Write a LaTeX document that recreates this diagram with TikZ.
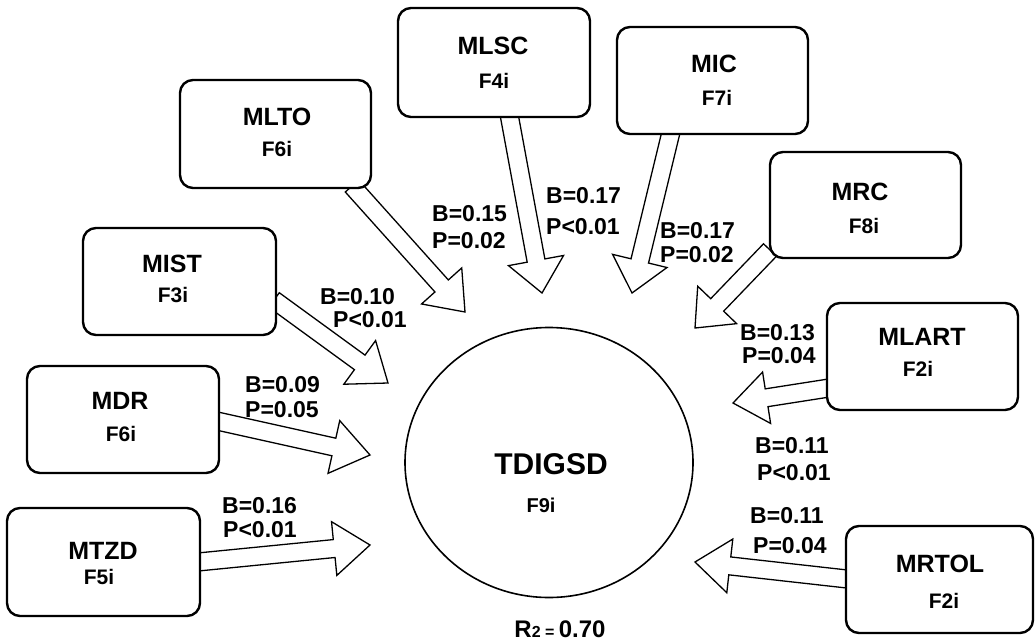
\documentclass[tikz,border=0pt]{standalone}
\usepackage{fontspec}
\setmainfont{Liberation Sans}
\usetikzlibrary{calc,shapes.geometric}
\newcommand\blockarr[5]{%
  \coordinate (ba-c) at ($(#2)!#5!(#1)$);
  \draw[arrowline] ($(#1)!#3!90:(#2)$) -- ($(ba-c)!#3!90:(#2)$) -- ($(ba-c)!#4!90:(#2)$) -- (#2)
    -- ($(ba-c)!#4!-90:(#2)$) -- ($(ba-c)!#3!-90:(#2)$) -- ($(#1)!#3!-90:(#2)$) -- cycle;
}
\begin{document}
\begin{tikzpicture}[x=1pt,y=-1pt,
  box/.style={draw, line width=2.4pt, rounded corners=13pt, fill=white, inner sep=0pt},
  arrowline/.style={draw, line width=1.3pt, fill=white, line join=miter},
  title/.style={font=\fontsize{25}{25}\selectfont\bfseries, inner sep=0pt},
  fsub/.style={font=\fontsize{21}{21}\selectfont\bfseries, inner sep=0pt},
  lab/.style={font=\fontsize{23}{23}\selectfont\bfseries, inner sep=0pt, anchor=base west}]
\useasboundingbox (0,0) rectangle (1035,642);

% target
\node[ellipse, draw, line width=1.6pt, minimum width=288pt, minimum height=270pt, inner sep=0pt] (tdigsd) at (549,462.5) {};
\node[font=\fontsize{30}{30}\selectfont\bfseries, inner sep=0pt] (tdigsdt) at (551,464) {TDIGSD};
\node[font=\fontsize{20}{20}\selectfont\bfseries, inner sep=0pt] (tdigsdf) at (541,505) {F9i};
\node[inner sep=0pt, anchor=base] (r2) at (560,637) {\fontsize{24}{24}\selectfont\bfseries R\fontsize{16}{16}\selectfont 2 = \fontsize{24}{24}\selectfont 0.70};

% arrow coordinates
\coordinate (s-mlto) at (352,186);  \coordinate (t-mlto) at (465,312);
\coordinate (s-mlsc) at (509,114);  \coordinate (t-mlsc) at (542,293);
\coordinate (s-mic) at (671,132);   \coordinate (t-mic) at (632,293);
\coordinate (s-mrc) at (770,250);   \coordinate (t-mrc) at (695,328);
\coordinate (s-mlart) at (829,388); \coordinate (t-mlart) at (733,403);
\coordinate (s-mrtol) at (847,579); \coordinate (t-mrtol) at (695,562);
\coordinate (s-mdr) at (217,421);   \coordinate (t-mdr) at (370,455);
\coordinate (s-mtzd) at (198,562);  \coordinate (t-mtzd) at (370,545);
\coordinate (s-mist) at (274,300);  \coordinate (t-mist) at (388,383);

\blockarr{s-mlto}{t-mlto}{9pt}{27pt}{35pt}
\blockarr{s-mlsc}{t-mlsc}{9pt}{28pt}{33pt}
\blockarr{s-mic}{t-mic}{9pt}{28pt}{33pt}
\blockarr{s-mrc}{t-mrc}{9pt}{27pt}{32pt}
\blockarr{s-mlart}{t-mlart}{9pt}{26pt}{34pt}
\blockarr{s-mrtol}{t-mrtol}{9pt}{27pt}{35pt}
\blockarr{s-mdr}{t-mdr}{9pt}{27pt}{37pt}
\blockarr{s-mtzd}{t-mtzd}{9pt}{27pt}{36pt}
\blockarr{s-mist}{t-mist}{9pt}{27pt}{35pt}

% boxes
\node[box, minimum width=191pt, minimum height=108pt] (mlto) at (275.5,134) {};
\node[box, minimum width=192pt, minimum height=109pt] (mlsc) at (494,62.5) {};
\node[box, minimum width=191pt, minimum height=107pt] (mic) at (712.5,80.5) {};
\node[box, minimum width=191pt, minimum height=106pt] (mrc) at (865.5,205) {};
\node[box, minimum width=193pt, minimum height=107pt] (mist) at (179.5,281.5) {};
\node[box, minimum width=191pt, minimum height=107pt] (mlart) at (922.5,356.5) {};
\node[box, minimum width=192pt, minimum height=107pt] (mdr) at (123,419.5) {};
\node[box, minimum width=193pt, minimum height=108pt] (mtzd) at (103.5,562) {};
\node[box, minimum width=187pt, minimum height=107pt] (mrtol) at (939.5,579.5) {};

% box texts
\node[title] (mlto-t) at (277,117) {MLTO};   \node[fsub] (mlto-f) at (277,149) {F6i};
\node[title] (mlsc-t) at (493,46) {MLSC};    \node[fsub] (mlsc-f) at (494,81) {F4i};
\node[title] (mic-t) at (714,64) {MIC};      \node[fsub] (mic-f) at (717,98) {F7i};
\node[title] (mrc-t) at (860,192) {MRC};     \node[fsub] (mrc-f) at (864,226) {F8i};
\node[title] (mist-t) at (172,264) {MIST};   \node[fsub] (mist-f) at (173,295) {F3i};
\node[title] (mlart-t) at (922,337) {MLART}; \node[fsub] (mlart-f) at (918,369) {F2i};
\node[title] (mdr-t) at (120,401) {MDR};     \node[fsub] (mdr-f) at (121,434) {F6i};
\node[title] (mtzd-t) at (103,551) {MTZD};   \node[fsub] (mtzd-f) at (99,577) {F5i};
\node[title] (mrtol-t) at (940,564) {MRTOL}; \node[fsub] (mrtol-f) at (944,601) {F2i};

% coefficient labels
\node[lab] (l1b) at (432,221) {B=0.15}; \node[lab] (l1p) at (432,248) {P=0.02};
\node[lab] (l2b) at (320,304) {B=0.10}; \node[lab] (l2p) at (333,327) {P<0.01};
\node[lab] (l3b) at (546,203) {B=0.17}; \node[lab] (l3p) at (546,234) {P<0.01};
\node[lab] (l4b) at (660,238) {B=0.17}; \node[lab] (l4p) at (660,262) {P=0.02};
\node[lab] (l5b) at (740,340) {B=0.13}; \node[lab] (l5p) at (742,363) {P=0.04};
\node[lab] (l6b) at (755,453) {B=0.11}; \node[lab] (l6p) at (757,480) {P<0.01};
\node[lab] (l7b) at (750,523) {B=0.11}; \node[lab] (l7p) at (753,553) {P=0.04};
\node[lab] (l8b) at (245,392) {B=0.09}; \node[lab] (l8p) at (245,417) {P=0.05};
\node[lab] (l9b) at (222,513) {B=0.16}; \node[lab] (l9p) at (223,537) {P<0.01};
\end{tikzpicture}
\end{document}
